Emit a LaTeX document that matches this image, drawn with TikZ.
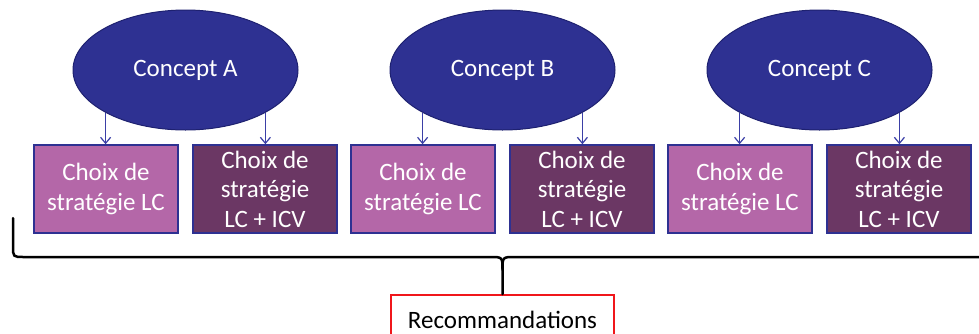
\documentclass[tikz,border=0pt]{standalone}
\usepackage{fontspec}
\setmainfont{Carlito}
\usetikzlibrary{shapes.geometric,arrows.meta}

\definecolor{bleuconcept}{HTML}{2E3192}
\definecolor{bordconcept}{HTML}{1E2170}
\definecolor{mauveclair}{HTML}{B467A8}
\definecolor{mauvefonce}{HTML}{6B3764}
\definecolor{bleufleche}{HTML}{3B3FA6}
\definecolor{rougereco}{HTML}{F0161B}

\tikzset{
  concept/.style={ellipse, draw=bordconcept, line width=1pt, fill=bleuconcept, text=white,
    minimum width=225pt, minimum height=120pt, inner sep=0pt, font=\fontsize{25}{29.5}\selectfont},
  choix/.style={rectangle, draw=bleuconcept, line width=1.5pt, text=white, align=center,
    minimum width=144pt, minimum height=88pt, inner sep=0pt, font=\fontsize{25}{29.5}\selectfont},
  fleche/.style={-{Straight Barb[length=6pt,width=10pt]}, draw=bleufleche, line width=1.2pt},
  accolade/.style={draw=black, line width=2.5pt, line cap=round},
  reco/.style={rectangle, draw=rougereco, line width=2pt, minimum width=223pt, minimum height=50pt,
    font=\fontsize{25}{29.5}\selectfont}
}

\begin{document}
\begin{tikzpicture}[x=1pt,y=-1pt]
    \useasboundingbox (0,0) rectangle (979,333);
    \clip (0,0) rectangle (979,333);

    % Concepts et choix de strategie
    \foreach \n/\cx in {A/185.5, B/502.5, C/819.5}{
        \node[concept] (c\n) at (\cx,70) {Concept \n};
        \node[choix, fill=mauveclair] (lc\n) at (\cx-79.5,189) {Choix de\\stratégie LC};
        \node[choix, fill=mauvefonce] (icv\n) at (\cx+79.5,189) {Choix de\\stratégie\\LC + ICV};
        \draw[fleche] (c\n.south west) -- (c\n.south west |- lc\n.north);
        \draw[fleche] (c\n.south east) -- (c\n.south east |- icv\n.north);
    }

    % Recommandations
    \node[reco] (reco) at (502.5,320) {Recommandations};

    % Accolade
    \coordinate (gauche) at (13,218);
    \coordinate (droite) at (992,218);
    \coordinate (pointe) at (502.5,270);
    \draw[accolade] (gauche) -- (13,246) .. controls (13,257) .. (24,257) -- (490,257)
        .. controls (502.5,257) .. (pointe) -- (reco.north);
    \draw[accolade] (droite) -- (992,246) .. controls (992,257) .. (981,257) -- (515,257)
        .. controls (502.5,257) .. (pointe);
\end{tikzpicture}
\end{document}
